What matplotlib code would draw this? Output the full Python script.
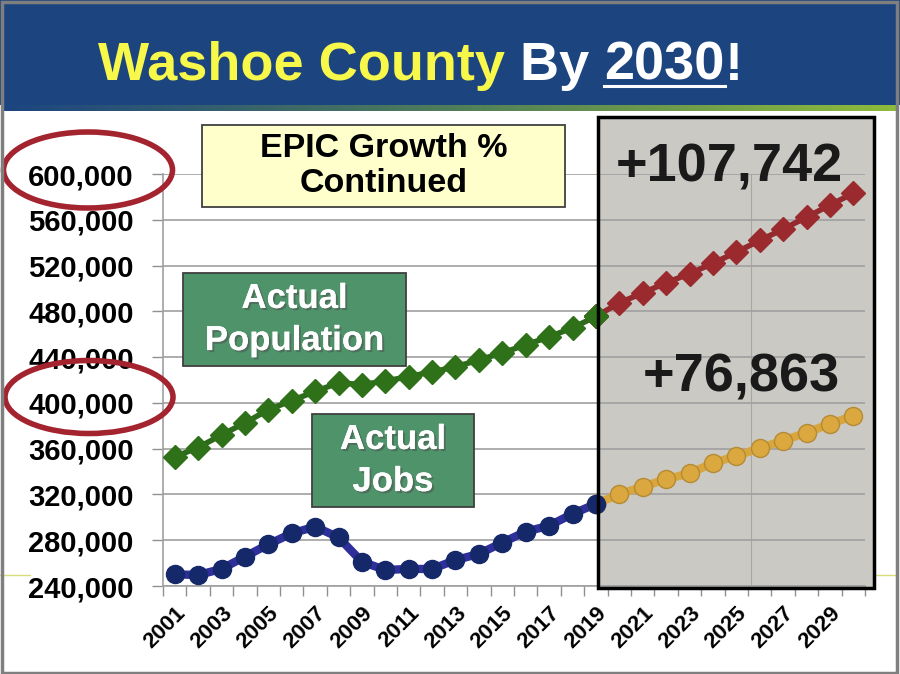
import numpy as np
import matplotlib
matplotlib.use("Agg")
import matplotlib.pyplot as plt
import matplotlib.patheffects as pe
from matplotlib.patches import Rectangle, Ellipse
from matplotlib.lines import Line2D

plt.rcParams['font.family'] = ['Liberation Sans', 'DejaVu Sans']

years = list(range(2001, 2031))
population = [352800, 361000, 372000, 382500, 394000, 402000, 410000, 417500,
              416000, 419000, 423000, 427000, 431500, 437500, 443700, 450700,
              457700, 465600, 475500,
              487400, 496000, 505000, 512800, 522000, 531700, 541900, 551800,
              562300, 572800, 583200]
jobs = [250200, 249600, 254900, 265600, 276400, 286000, 291800, 282500,
        261200, 254000, 254900, 254900, 262700, 268000, 277900, 287500,
        292700, 303000, 311700,
        320200, 326800, 333300, 338500, 347300, 353700, 360400, 367000,
        374000, 381600, 388600]
split = years.index(2019)
pop_gain = "+107,742"
jobs_gain = "+76,863"
ytick_values = list(range(240000, 600001, 40000))

W, H = 900, 674
fig = plt.figure(figsize=(9, 6.74), dpi=100)
fig.patch.set_facecolor('white')


def fx(px):
    return px / W


def fy(py):
    return 1 - py / H


# banner
fig.patches.append(Rectangle((0, fy(105)), 1, 105 / H, transform=fig.transFigure,
                             facecolor='#1c4580', edgecolor='none', zorder=0))
grad_ax = fig.add_axes([fx(4), fy(111), fx(892), 6 / H], zorder=0)
grad = np.linspace(0, 1, 256).reshape(1, -1)
cmap = matplotlib.colors.LinearSegmentedColormap.from_list('g', ['#1c4580', '#4f7d5a', '#8dbb3c'])
grad_ax.imshow(grad, aspect='auto', cmap=cmap)
grad_ax.axis('off')

# thin slide line
fig.lines.append(Line2D([fx(0), fx(30)], [fy(575), fy(575)], transform=fig.transFigure,
                        color='#d5dc7a', lw=1, zorder=0))
fig.lines.append(Line2D([fx(874), fx(896)], [fy(575), fy(575)], transform=fig.transFigure,
                        color='#d5dc7a', lw=1, zorder=0))

# grey forecast box (behind axes)
fig.patches.append(Rectangle((fx(598), fy(588)), fx(874 - 598), (588 - 117) / H,
                             transform=fig.transFigure, facecolor='#cbc9c4',
                             edgecolor='none', zorder=0.5))

ax = fig.add_axes([fx(163), fy(586), fx(865 - 163), (586 - 174) / H], zorder=1)
ax.patch.set_alpha(0)

x = np.arange(len(years))
ax.set_xlim(-0.5, len(years) - 0.5)
ax.set_ylim(240000, 600000)

ax.axvline(x[0] + (751 - 163) / 23.39 - 0.5, color='#a9a7a2', lw=0.8, zorder=0)
ax.set_yticks(ytick_values)
ax.set_yticklabels([f"{v:,}" for v in ytick_values], fontsize=21, fontweight='bold')
ax.yaxis.grid(True, color='#a0a0a0', lw=1.2, zorder=0)
ax.set_axisbelow(True)

ax.set_xticks(x[::2])
ax.set_xticklabels([str(y) for y in years[::2]], rotation=45, ha='right', va='top',
                   rotation_mode='anchor', fontsize=16, fontweight='bold')
ax.set_xticks(np.arange(len(years) + 1) - 0.5, minor=True)
ax.tick_params(axis='x', which='major', length=0, pad=12)
ax.tick_params(axis='x', which='minor', length=7, color='#909090', width=1)
ax.tick_params(axis='y', length=8, color='#909090', width=1, pad=13)
for s in ['top', 'right']:
    ax.spines[s].set_visible(False)
for s in ['left', 'bottom']:
    ax.spines[s].set_color('#a0a0a0')
    ax.spines[s].set_linewidth(1.2)

# population
ax.plot(x[:split + 1], population[:split + 1], color='#2d6b1c', lw=4, marker='D', ms=12,
        mfc='#2e7118', mec='#2e7118', zorder=3)
ax.plot(x[split:], population[split:], color='#952a2e', lw=4, marker='D', ms=12,
        mfc='#9b2a2e', mec='#9b2a2e', zorder=3)
ax.plot(x[split], population[split], marker='D', ms=12, color='#2e7118', zorder=4)
# jobs
ax.plot(x[:split + 1], jobs[:split + 1], color='#2f2f9c', lw=6, marker='o', ms=13,
        mfc='#14286a', mec='#14286a', zorder=3)
ax.plot(x[split:], jobs[split:], color='#d8a63c', lw=6, marker='o', ms=13,
        mfc='#dba83f', mec='#b48a34', mew=1, zorder=3)
ax.plot(x[split], jobs[split], marker='o', ms=13, color='#14286a', zorder=4)

# box outline on top
fig.patches.append(Rectangle((fx(598), fy(588)), fx(874 - 598), (588 - 117) / H,
                             transform=fig.transFigure, facecolor='none',
                             edgecolor='black', lw=2.5, zorder=5))

fig.text(fx(729), fy(167), pop_gain, fontsize=39, fontweight='bold', color='#1a1a1a',
         ha='center', va='center', zorder=6)
fig.text(fx(741), fy(377), jobs_gain, fontsize=39, fontweight='bold', color='#1a1a1a',
         ha='center', va='center', zorder=6)

# label boxes
def label_box(x0, y0, x1, y1, text, face, color, size, spacing, shadow=False):
    fig.patches.append(Rectangle((fx(x0), fy(y1)), fx(x1 - x0), (y1 - y0) / H,
                                 transform=fig.transFigure, facecolor=face,
                                 edgecolor='#404040', lw=1.3, zorder=6))
    t = fig.text(fx((x0 + x1) / 2), fy((y0 + y1) / 2), text, fontsize=size,
                 fontweight='bold', color=color, ha='center', va='center',
                 linespacing=spacing, zorder=7)
    if shadow:
        t.set_path_effects([pe.withSimplePatchShadow(offset=(1.5, -1.5), alpha=0.5),
                            pe.Normal()])


label_box(202, 125, 565, 207, "EPIC Growth %\nContinued", '#ffffcc', 'black', 24.5, 1.15)
label_box(183, 273, 406, 366, "Actual\nPopulation", '#4f936a', 'white', 25, 1.35, True)
label_box(312, 414, 474, 507, "Actual\nJobs", '#4f936a', 'white', 25, 1.35, True)

# red ellipses
for cx, cy, w, h in [(88, 170, 169, 76), (89, 397, 168, 73)]:
    fig.patches.append(Ellipse((fx(cx), fy(cy)), fx(w), h / H, transform=fig.transFigure,
                               facecolor='none', edgecolor='#a3232f', lw=4, zorder=8))

# title
renderer = fig.canvas.get_renderer()
xpos = fx(98)
base = fy(80)
parts = [("Washoe County ", '#f8f84a'), ("By ", 'white'), ("2030", 'white'), ("!", 'white')]
for txt, col in parts:
    t = fig.text(xpos, base, txt, fontsize=39, fontweight='bold', color=col,
                 ha='left', va='baseline', zorder=3)
    bb = t.get_window_extent(renderer).transformed(fig.transFigure.inverted())
    if txt == "2030":
        fig.lines.append(Line2D([bb.x0, bb.x1], [fy(86), fy(86)], transform=fig.transFigure,
                                color='white', lw=2.2, zorder=3))
    xpos = bb.x1

# outer frame
fig.patches.append(Rectangle((fx(1.5), fy(672.5)), fx(895), 671 / H, transform=fig.transFigure,
                             facecolor='none', edgecolor='#7f7f7f', lw=2.5, zorder=10))

fig.savefig('out.png', dpi=100)
